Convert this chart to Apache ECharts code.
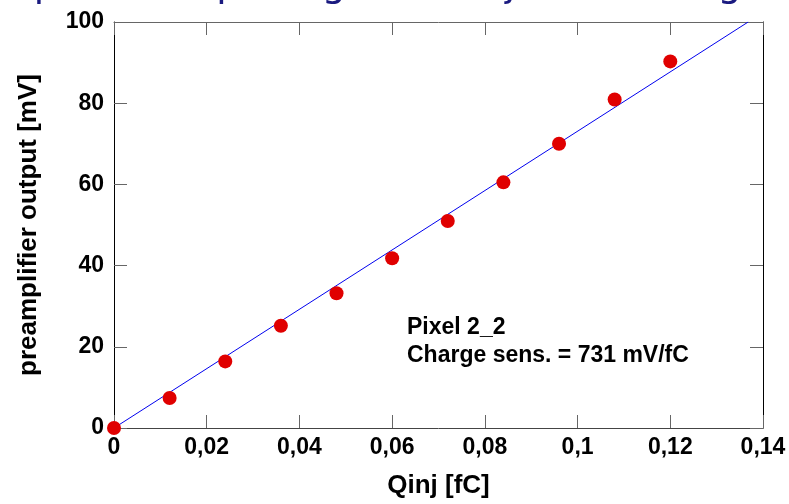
<!DOCTYPE html>
<html>

<head>
    <meta charset="UTF-8">
    <title></title>
    <style>
        html, body { margin: 0; padding: 0; background: #fff; }
        #container {
            width: 789px;
            height: 504px;
        }
    </style>
</head>

<body>
    <div id="container"></div>
    <script type="text/javascript" src="https://cdn.jsdelivr.net/npm/echarts@6/dist/echarts.min.js"></script>
    <script>
        // measured points
        var qinj = [0, 0.012, 0.024, 0.036, 0.048, 0.06, 0.072, 0.084, 0.096, 0.108, 0.12];
        var output = [0, 7.4, 16.4, 25.2, 33.2, 41.8, 51.0, 60.5, 70.0, 80.9, 90.3];
        // linear fit, 731 mV/fC
        var fitX = [0, 0.1368];
        var fitY = [0, 100];
        var xTicks = ['0', '0,02', '0,04', '0,06', '0,08', '0,1', '0,12', '0,14'];
        var yTicks = ['0', '20', '40', '60', '80', '100'];

        var labelFont = { fontFamily: 'Liberation Sans, Arial', fontWeight: 'bold', fontSize: 23, color: '#000' };

        var myChart = echarts.init(document.getElementById('container'));
        myChart.setOption({
            animation: false,
            // title is cut off at the top of the picture
            title: {
                text: 'Preamplifier output signal vs injected charge',
                left: -87, top: -33, padding: 0,
                textStyle: { fontFamily: 'DejaVu Sans', fontWeight: 'normal', fontSize: 38, lineHeight: 38, color: '#1a1a80' }
            },
            grid: { left: 114, right: 26, top: 22, bottom: 75 },
            xAxis: [
                {
                    type: 'value', min: 0, max: 0.14, interval: 0.02,
                    name: 'Qinj [fC]', nameLocation: 'middle', nameGap: 45,
                    nameTextStyle: { fontFamily: 'Liberation Sans, Arial', fontWeight: 'bold', fontSize: 26, color: '#000' },
                    axisLine: { onZero: false, lineStyle: { color: '#444', width: 1 } },
                    axisTick: { inside: true, length: 13, lineStyle: { color: '#666' } },
                    axisLabel: Object.assign({ margin: 8, formatter: function (v, i) { return xTicks[i]; } }, labelFont),
                    splitLine: { show: false }
                },
                {
                    type: 'value', min: 0, max: 0.14, interval: 0.02, position: 'top',
                    axisLine: { show: true, onZero: false, lineStyle: { color: '#666', width: 1 } },
                    axisTick: { inside: true, length: 13, lineStyle: { color: '#666' } },
                    axisLabel: { show: false },
                    splitLine: { show: false }
                }
            ],
            yAxis: [
                {
                    type: 'value', min: 0, max: 100, interval: 20,
                    name: 'preamplifier output [mV]', nameLocation: 'middle', nameGap: 72,
                    nameTextStyle: { fontFamily: 'Liberation Sans, Arial', fontWeight: 'bold', fontSize: 26, color: '#000' },
                    axisLine: { show: true, onZero: false, lineStyle: { color: '#000', width: 1 } },
                    axisTick: { show: true, inside: true, length: 13, lineStyle: { color: '#666' } },
                    axisLabel: Object.assign({ margin: 10, formatter: function (v, i) { return yTicks[i]; } }, labelFont),
                    splitLine: { show: false }
                },
                {
                    type: 'value', min: 0, max: 100, interval: 20, position: 'right',
                    axisLine: { show: true, onZero: false, lineStyle: { color: '#000', width: 1 } },
                    axisTick: { show: true, inside: true, length: 13, lineStyle: { color: '#666' } },
                    axisLabel: { show: false },
                    splitLine: { show: false }
                }
            ],
            graphic: [
                {
                    type: 'text', left: 407, top: 314, silent: true,
                    style: {
                        text: 'Pixel 2_2\nCharge sens. = 731 mV/fC',
                        font: 'bold 23px "Liberation Sans", Arial', fill: '#000', lineHeight: 28
                    }
                }
            ],
            series: [
                {
                    type: 'line',
                    data: fitX.map(function (x, i) { return [x, fitY[i]]; }),
                    showSymbol: false,
                    lineStyle: { color: '#0000ee', width: 1 },
                    z: 2
                },
                {
                    type: 'scatter',
                    data: qinj.map(function (x, i) { return [x, output[i]]; }),
                    symbolSize: 14,
                    itemStyle: { color: '#e00000', opacity: 1 },
                    z: 3
                }
            ]
        });
    </script>
</body>

</html>
